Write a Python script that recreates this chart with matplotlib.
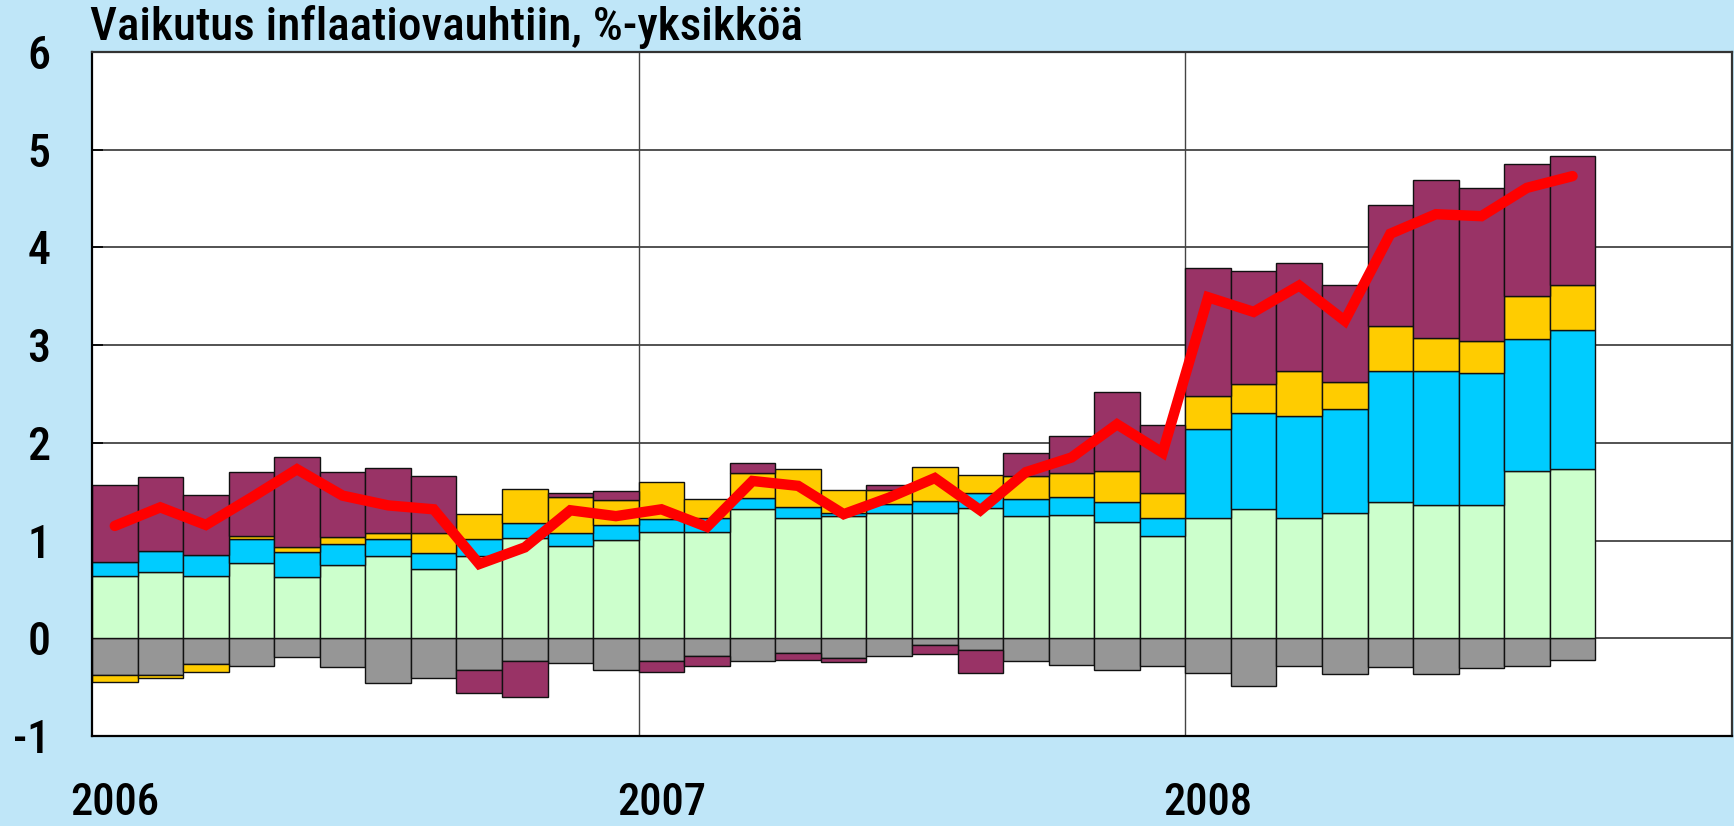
import numpy as np
import matplotlib.pyplot as plt

plt.rcParams['font.family'] = ['Roboto Condensed', 'Archivo Narrow', 'Liberation Sans', 'DejaVu Sans']

# monthly contributions, Jan 2006 - Sep 2008 (percentage points)
green = [0.64, 0.68, 0.64, 0.77, 0.63, 0.75, 0.84, 0.71, 0.84, 1.03, 0.94, 1.01,
         1.09, 1.09, 1.32, 1.23, 1.25, 1.28, 1.28, 1.33, 1.25, 1.26, 1.19, 1.05,
         1.23, 1.32, 1.23, 1.28, 1.39, 1.36, 1.36, 1.71, 1.73]
cyan = [0.14, 0.21, 0.21, 0.25, 0.25, 0.21, 0.18, 0.16, 0.18, 0.15, 0.14, 0.15,
        0.13, 0.14, 0.12, 0.11, 0.03, 0.09, 0.13, 0.16, 0.18, 0.19, 0.20, 0.18,
        0.91, 0.99, 1.04, 1.07, 1.35, 1.38, 1.35, 1.35, 1.42]
yellow = [-0.07, -0.03, -0.09, 0.03, 0.05, 0.08, 0.06, 0.21, 0.25, 0.35, 0.37, 0.26,
          0.38, 0.20, 0.25, 0.39, 0.24, 0.15, 0.34, 0.18, 0.23, 0.24, 0.32, 0.26,
          0.34, 0.29, 0.47, 0.27, 0.46, 0.33, 0.33, 0.44, 0.47]
purple = [0.79, 0.76, 0.62, 0.65, 0.93, 0.66, 0.66, 0.58, -0.24, -0.37, 0.04, 0.09,
          -0.11, -0.10, 0.10, -0.07, -0.04, 0.05, -0.09, -0.24, 0.24, 0.38, 0.81, 0.69,
          1.31, 1.16, 1.10, 1.00, 1.23, 1.62, 1.57, 1.35, 1.32]
gray = [-0.38, -0.38, -0.26, -0.28, -0.19, -0.29, -0.46, -0.41, -0.32, -0.23, -0.25, -0.32,
        -0.23, -0.18, -0.23, -0.15, -0.20, -0.18, -0.07, -0.12, -0.23, -0.27, -0.32, -0.28,
        -0.36, -0.49, -0.28, -0.37, -0.29, -0.37, -0.30, -0.28, -0.22]
inflation = [1.15, 1.34, 1.16, 1.44, 1.73, 1.46, 1.36, 1.32, 0.76, 0.93, 1.31, 1.25,
             1.32, 1.14, 1.61, 1.56, 1.27, 1.44, 1.64, 1.31, 1.70, 1.85, 2.19, 1.90,
             3.49, 3.34, 3.61, 3.25, 4.14, 4.34, 4.32, 4.61, 4.73]
years = ['2006', '2007', '2008']

fig = plt.figure(figsize=(17.34, 8.26), dpi=100, facecolor='#bfe6f8')
ax = fig.add_axes([92/1734, 1 - 736/826, 1640/1734, 684/826])
ax.set_facecolor('white')

x = np.arange(len(green))
pos = np.zeros(len(x))
neg = np.zeros(len(x))
series = [(gray, '#969696'), (green, '#ccffcc'), (cyan, '#00ccff'),
          (yellow, '#ffcc00'), (purple, '#993366')]
for vals, col in series:
    v = np.array(vals)
    bottom = np.where(v >= 0, pos, neg)
    ax.bar(x, v, width=1, bottom=bottom, align='edge', color=col,
           edgecolor='#111111', linewidth=1.0, zorder=2)
    pos += np.clip(v, 0, None)
    neg += np.clip(v, None, 0)

ax.plot(x + 0.5, inflation, color='#ff0000', lw=7.5, zorder=3,
        solid_joinstyle='miter', solid_capstyle='round')

ax.set_xlim(0, 36)
ax.set_ylim(-1, 6)
ax.set_yticks(range(-1, 7))
ax.set_yticklabels([str(v) for v in range(-1, 7)], fontsize=33, fontweight='medium')
ax.yaxis.grid(True, color='#444444', lw=1.3)
ax.set_axisbelow(True)
for xv in (12, 24):
    ax.axvline(xv, color='#444444', lw=1.0, zorder=1)
ax.tick_params(axis='y', direction='in', length=8, pad=30, width=1.2)

ax.set_xticks([0.5, 12.5, 24.5])
ax.set_xticklabels(years, fontsize=32, fontweight='medium')
ax.tick_params(axis='x', length=0, pad=33)

for s in ['left', 'bottom']:
    ax.spines[s].set_color('black')
    ax.spines[s].set_linewidth(1.6)
for s in ['top', 'right']:
    ax.spines[s].set_color('#333333')
    ax.spines[s].set_linewidth(1.6)

fig.text(90/1734, 1 - 40/826, 'Vaikutus inflaatiovauhtiin, %-yksikköä',
         fontsize=34, fontweight='medium', va='baseline', ha='left')

fig.savefig('out.png', dpi=100, facecolor=fig.get_facecolor())
